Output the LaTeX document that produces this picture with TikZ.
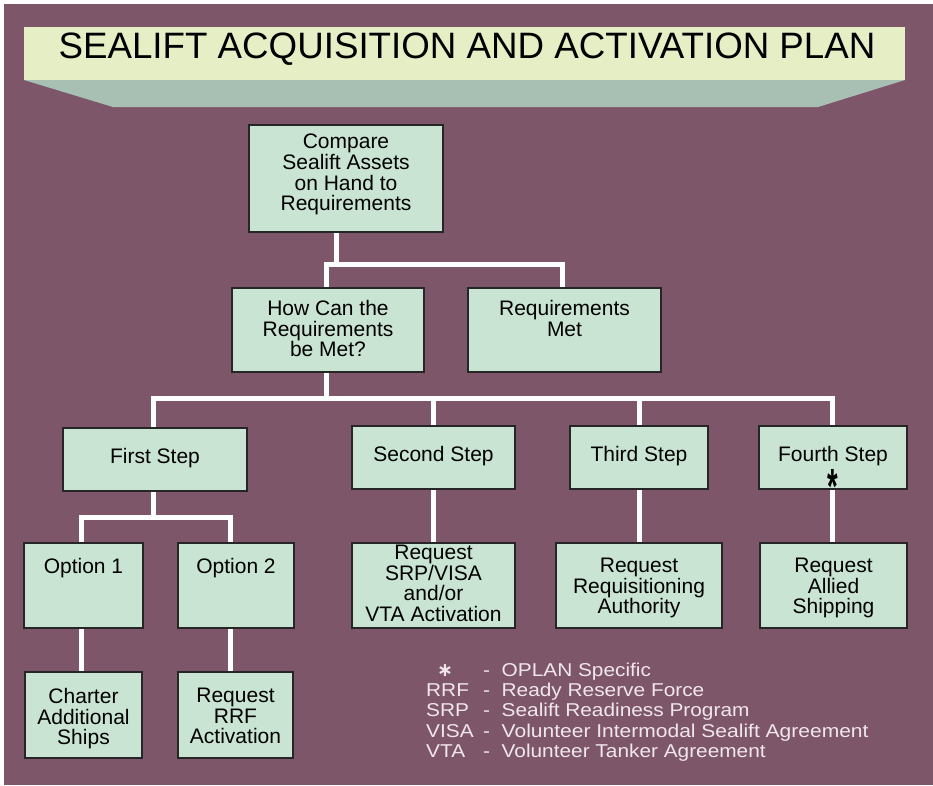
\documentclass[tikz,border=0pt]{standalone}
\usepackage{fontspec}
\setmainfont{Liberation Sans}
\newfontfamily\djv{DejaVu Sans}
\usepackage{graphicx}
\usetikzlibrary{fit}
\definecolor{bgpurple}{HTML}{7E5669}
\definecolor{boxfill}{HTML}{C9E4D3}
\definecolor{boxline}{HTML}{262626}
\definecolor{banneryellow}{HTML}{E5EEC4}
\definecolor{bannerteal}{HTML}{A8BFB3}
\definecolor{legtext}{HTML}{F0E7EC}
\pgfdeclarelayer{bg}
\pgfsetlayers{bg,main}
\begin{document}
\begin{tikzpicture}[x=1pt,y=-1pt,
  box/.style={draw=boxline, line width=1.1pt, fill=boxfill, inner sep=0pt, rectangle},
  txt/.style={anchor=north, align=center, inner sep=0pt, font=\fontsize{21}{20.6}\selectfont, text=black},
  wire/.style={draw=white, line width=5pt},
  leg/.style={inner sep=0pt, text=legtext, font=\fontsize{18.6}{20.4}\selectfont}]
\useasboundingbox (0,0) rectangle (933,785);

% banner
\fill[banneryellow] (24,27) rectangle (905,80);
\fill[bannerteal] (24,80) -- (905,80) -- (818,107) -- (113,107) -- cycle;
\node[anchor=base, inner sep=0pt, font=\fontsize{36}{36}\selectfont] (titleT) at (467,58) {\scalebox{1.02}[1.02]{SEALIFT ACQUISITION AND ACTIVATION PLAN}};

% boxes
\node[box, fit={(249,125) (443,232)}] (compare) {};
\node[box, fit={(232,288) (424,372)}] (howcan) {};
\node[box, fit={(468,288) (661,372)}] (reqmet) {};
\node[box, fit={(63,428) (247,491)}] (first) {};
\node[box, fit={(352,426) (515,489)}] (second) {};
\node[box, fit={(570,426) (708,489)}] (third) {};
\node[box, fit={(759,426) (907,489)}] (fourth) {};
\node[box, fit={(24,543) (143,628)}] (opt1) {};
\node[box, fit={(178,543) (294,628)}] (opt2) {};
\node[box, fit={(352,543) (515,628)}] (srp) {};
\node[box, fit={(556,543) (722,628)}] (reqn) {};
\node[box, fit={(760,543) (907,628)}] (allied) {};
\node[box, fit={(25,672) (142,758)}] (charter) {};
\node[box, fit={(178,672) (293,758)}] (rrf) {};

% box texts
\node[txt] (compareT) at (346,134) {Compare\\Sealift Assets\\on Hand to\\Requirements};
\node[txt] (howcanT) at (328,300) {How Can the\\Requirements\\be Met?};
\node[txt] (reqmetT) at (564.5,300) {Requirements\\Met};
\node[txt] (firstT) at (155,448) {First Step};
\node[txt] (secondT) at (433.5,446.5) {Second Step};
\node[txt] (thirdT) at (639,446.5) {Third Step};
\node[txt] (fourthT) at (833,446) {Fourth Step};
\node[anchor=base, inner sep=0pt, font=\bfseries\fontsize{26}{26}\selectfont] (fourthS) at (833,503) {\scalebox{1.05}[1.9]{*}};
\node[txt] (opt1T) at (83.5,558) {Option 1};
\node[txt] (opt2T) at (236,558) {Option 2};
\node[txt] (srpT) at (433.5,545) {Request\\SRP/VISA\\and/or\\VTA Activation};
\node[txt] (reqnT) at (639,558) {Request\\Requisitioning\\Authority};
\node[txt] (alliedT) at (833.5,558) {Request\\Allied\\Shipping};
\node[txt] (charterT) at (83.5,688) {Charter\\Additional\\Ships};
\node[txt] (rrfT) at (235.5,688) {Request\\RRF\\Activation};

% connector positions
\coordinate (bus1) at (336,264);
\coordinate (bus2) at (0,398);
\coordinate (bus3) at (153,517);
\coordinate (xhc) at (326,0);
\coordinate (xrm) at (562,0);
\coordinate (xf) at (153,0);
\coordinate (x2) at (433.5,0);
\coordinate (x3) at (639,0);
\coordinate (x4) at (832,0);
\coordinate (xo1) at (81.5,0);
\coordinate (xo2) at (230,0);

\begin{pgfonlayer}{bg}
\fill[bgpurple] (4,4) rectangle (933,785);
\draw[wire] (bus1 |- compare.south) -- (bus1);
\draw[wire] (xhc |- howcan.north) -- (xhc |- bus1) -- (xrm |- bus1) -- (xrm |- reqmet.north);
\draw[wire] (xhc |- howcan.south) -- (xhc |- bus2);
\draw[wire] (xf |- first.north) -- (xf |- bus2) -- (x4 |- bus2) -- (x4 |- fourth.north);
\draw[wire] (x2 |- bus2) -- (x2 |- second.north);
\draw[wire] (x3 |- bus2) -- (x3 |- third.north);
\draw[wire] (bus3 |- first.south) -- (bus3);
\draw[wire] (xo1 |- opt1.north) -- (xo1 |- bus3) -- (xo2 |- bus3) -- (xo2 |- opt2.north);
\draw[wire] (xo1 |- opt1.south) -- (xo1 |- charter.north);
\draw[wire] (xo2 |- opt2.south) -- (xo2 |- rrf.north);
\draw[wire] (x2 |- second.south) -- (x2 |- srp.north);
\draw[wire] (x3 |- third.south) -- (x3 |- reqn.north);
\draw[wire] (x4 |- fourth.south) -- (x4 |- allied.north);
\end{pgfonlayer}

% legend
\node[leg, anchor=base, font=\djv\bfseries\fontsize{19}{19}\selectfont] (la1) at (445,676) {∗};
\node[leg, anchor=base west] (la2) at (426,696.4) {\scalebox{1.12}[1]{RRF}};
\node[leg, anchor=base west] (la3) at (426,716.8) {\scalebox{1.12}[1]{SRP}};
\node[leg, anchor=base west] (la4) at (426,737.2) {\scalebox{1.12}[1]{VISA}};
\node[leg, anchor=base west] (la5) at (426,757.6) {\scalebox{1.12}[1]{VTA}};
\foreach \n/\yy in {1/676,2/696.4,3/716.8,4/737.2,5/757.6}
  \node[leg, anchor=base] (ld\n) at (486.5,\yy) {\scalebox{1.12}[1]{-}};
\node[leg, anchor=base west] (lt1) at (501.5,676) {\scalebox{1.12}[1]{OPLAN Specific}};
\node[leg, anchor=base west] (lt2) at (501.5,696.4) {\scalebox{1.12}[1]{Ready Reserve Force}};
\node[leg, anchor=base west] (lt3) at (501.5,716.8) {\scalebox{1.12}[1]{Sealift Readiness Program}};
\node[leg, anchor=base west] (lt4) at (501.5,737.2) {\scalebox{1.13}[1]{Volunteer Intermodal Sealift Agreement}};
\node[leg, anchor=base west] (lt5) at (501.5,757.6) {\scalebox{1.12}[1]{Volunteer Tanker Agreement}};
\end{tikzpicture}
\end{document}
